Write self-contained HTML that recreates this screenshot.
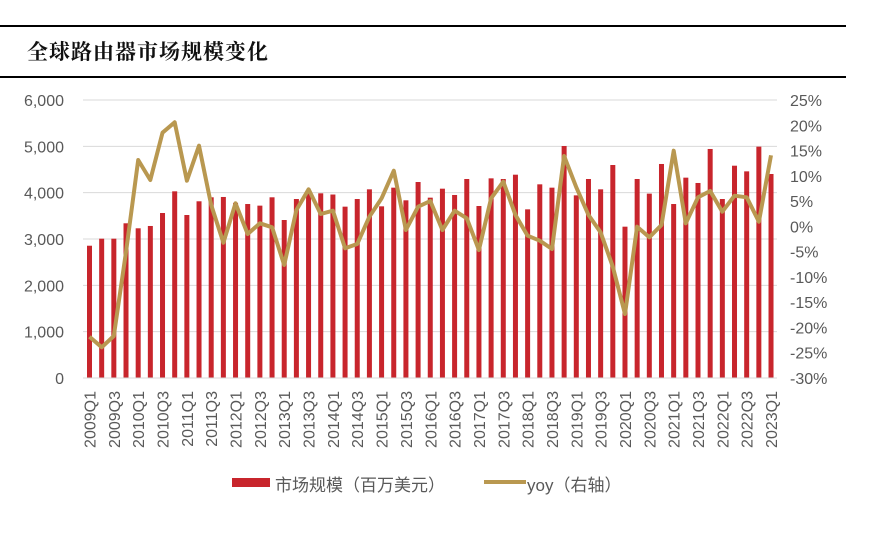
<!DOCTYPE html>
<html><head><meta charset="utf-8"><style>
html,body{margin:0;padding:0;background:#fff;}
svg{display:block;}
</style></head><body>
<svg id="s" width="871" height="541" xmlns="http://www.w3.org/2000/svg" font-family="Liberation Sans, Noto Sans CJK SC, sans-serif">
<rect width="871" height="541" fill="#fff"/>
<rect x="0" y="25" width="846" height="2" fill="#000"/>
<rect x="0" y="76" width="846" height="2" fill="#000"/>
<text x="27" y="59" font-family="Noto Serif CJK SC, serif" font-weight="bold" font-size="21" letter-spacing="1" fill="#111">全球路由器市场规模变化</text>
<g id="g"></g>
<rect x="232" y="478" width="38" height="9" fill="#c8252c"/>
<text x="275" y="491" font-size="17" fill="#595959">市场规模（百万美元）</text>
<line x1="484" y1="482" x2="526" y2="482" stroke="#b99850" stroke-width="4"/>
<text x="527" y="491" font-size="17" fill="#595959">yoy（右轴）</text>
</svg>
<script>
var g=document.getElementById('g'),h='';
var y0=378,k=(378-100)/6000;
for(var i=0;i<=6;i++){var y=y0-i*1000*k;
 h+='<line x1="83" x2="777" y1="'+y+'" y2="'+y+'" stroke="#d9d9d9" stroke-width="1"/>';
 h+='<text x="64" y="'+(y+6)+'" text-anchor="end" font-size="16" fill="#595959">'+(i==0?'0':i+',000')+'</text>';}
for(var p=25,j=0;p>=-30;p-=5,j++){var y=100+j*(278/11);
 h+='<text x="790" y="'+(y+6)+'" font-size="16" fill="#595959">'+p+'%</text>';}
var v=[2855,3007,3007,3339,3231,3281,3561,4029,3518,3814,3900,3907,3780,3755,3720,3900,3410,3863,3986,3986,3960,3698,3863,4072,3705,4108,3835,4230,3892,4086,3950,4295,3712,4309,4295,4388,3640,4180,4108,5007,3942,4295,4072,4597,3266,4295,3979,4619,3755,4324,4209,4943,3863,4582,4460,4993,4403];
var ly=[336.7,347.3,336,252,160,180,132.7,122.3,180.7,145.7,205,242.7,203.3,234,223.3,227.3,265,210,189.3,214,210.7,248.3,244,216.7,198.3,170.7,230,206.7,201,230,210.7,218.3,250,198.3,181.7,215,235.7,240.7,249,156,187.3,215,232.3,266.7,314,226.7,237.3,225,150.7,223.3,197.3,191,211.7,195.7,197.3,221.7,155.3];
var pts=[];
for(var i=0;i<57;i++){var x=89.5+i*12.17,t=y0-v[i]*k;
 h+='<rect x="'+(x-2.5)+'" y="'+t+'" width="5" height="'+(y0-t)+'" fill="#c8252c"/>';
 pts.push(x.toFixed(1)+','+ly[i]);
 if(i%2==0){var yr=2009+Math.floor(i/4),q=i%4+1;
  h+='<text transform="translate('+(x+6)+',391) rotate(-90)" text-anchor="end" font-size="16" fill="#595959">'+yr+'Q'+q+'</text>';}}
h+='<line x1="83" x2="777" y1="378" y2="378" stroke="#d9d9d9"/>';
h+='<polyline points="'+pts.join(' ')+'" fill="none" stroke="#b99850" stroke-width="4" stroke-linejoin="round"/>';
g.innerHTML=h;
</script>
</body></html>
